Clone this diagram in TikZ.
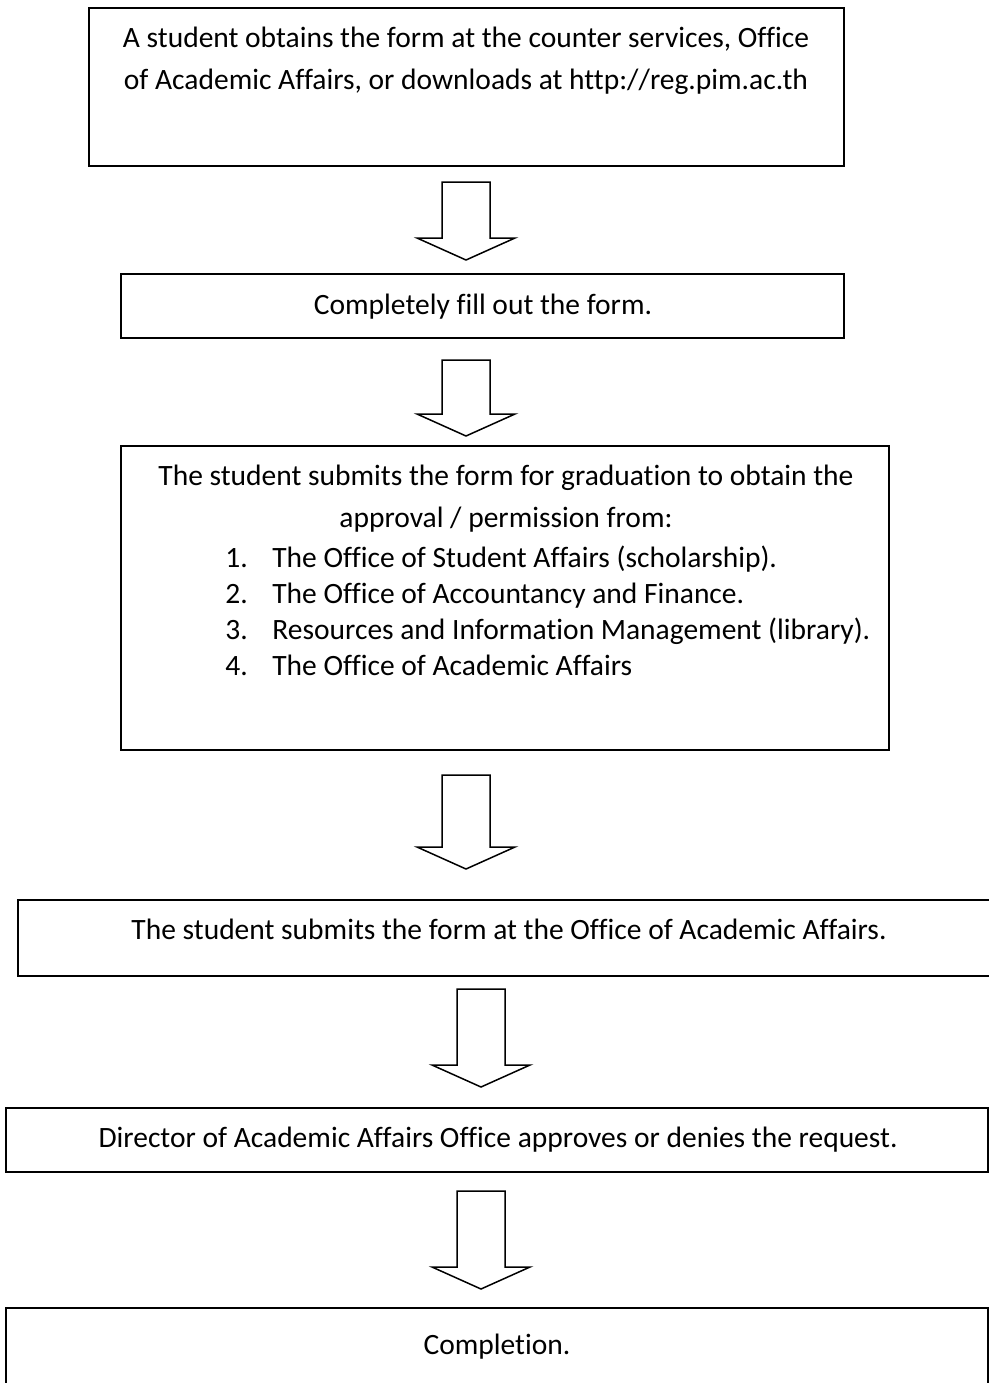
\documentclass[tikz,border=0pt]{standalone}
\usepackage{fontspec}
\setmainfont[Ligatures=CommonOff]{Carlito}
\usetikzlibrary{calc,fit}

\tikzset{
  stepframe/.style={draw, line width=1pt, inner sep=0pt},
  steptext/.style={inner sep=0pt, align=center, font=\fontsize{14.75pt}{21pt}\selectfont},
  blockarrow/.style={draw, line width=0.75pt, fill=white, line join=miter},
}

% hollow down arrow: from box, to box, axis, gap below, gap above
\newcommand{\flowarrow}[5]{%
  \draw[blockarrow] let \p1=($(#1.south -| #3)+(0,#4)$), \p2=($(#2.north -| #3)-(0,#5)$) in
    (\x1-12pt,\y1) -- (\x1+12pt,\y1) -- (\x1+12pt,\y2+11pt) -- (\x1+24.5pt,\y2+11pt)
    -- (\x1,\y2) -- (\x1-24.5pt,\y2+11pt) -- (\x1-12pt,\y2+11pt) -- cycle;}

\begin{document}
\begin{tikzpicture}[x=0.5pt, y=-0.5pt]
    \useasboundingbox (0,0) rectangle (989,1383);
    \clip (0,0) rectangle (989,1383);
    %% Arrow axes
    \coordinate (axisA) at (466,0);
    \coordinate (axisB) at (481,0);
    %% Boxes
    \node[stepframe, fit={(89,8) (844,166)}] (b1) {};
    \node[stepframe, fit={(121,274) (844,338)}] (b2) {};
    \node[stepframe, fit={(121,446) (889,750)}] (b3) {};
    \node[stepframe, fit={(18,900) (1000,976)}] (b4) {};
    \node[stepframe, fit={(6,1108) (988,1172)}] (b5) {};
    \node[stepframe, fit={(6,1308) (988,1400)}] (b6) {};
    %% Texts
    \node[steptext, anchor=north] (t1) at (466,17.6) {\strut A student obtains the form at the counter services, Office\\ of Academic Affairs, or downloads at http://reg.pim.ac.th};
    \node[steptext, anchor=base] (t2) at (483,314) {Completely fill out the form.};
    \node[steptext, anchor=north] (t3) at (506,455.6) {\strut The student submits the form for graduation to obtain the\\ approval / permission from:};
    \node[steptext, anchor=north west, align=left, font=\fontsize{14.75pt}{18pt}\selectfont] (l3) at (225,541.8) {%
      \strut\makebox[23.5pt][l]{1.}The Office of Student Affairs (scholarship).\\
      \makebox[23.5pt][l]{2.}The Office of Accountancy and Finance.\\
      \makebox[23.5pt][l]{3.}Resources and Information Management (library).\\
      \makebox[23.5pt][l]{4.}The Office of Academic Affairs};
    \node[steptext, anchor=base] (t4) at (509,939) {The student submits the form at the Office of Academic Affairs.};
    \node[steptext, anchor=base] (t5) at (498,1147) {Director of Academic Affairs Office approves or denies the request.};
    \node[steptext, anchor=base] (t6) at (497,1354) {Completion.};
    %% Arrows
    \flowarrow{b1}{b2}{axisA}{15}{13}
    \flowarrow{b2}{b3}{axisA}{21}{9}
    \flowarrow{b3}{b4}{axisA}{24}{30}
    \flowarrow{b4}{b5}{axisB}{12}{20}
    \flowarrow{b5}{b6}{axisB}{18}{18}
\end{tikzpicture}
\end{document}
